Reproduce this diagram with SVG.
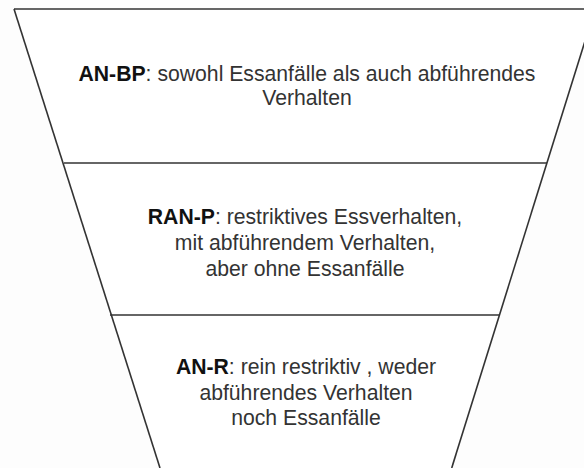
<svg xmlns="http://www.w3.org/2000/svg" width="584" height="468" viewBox="0 0 584 468">
<style>
.edge{stroke:#333;stroke-width:1.6;fill:none}
.t{font-family:"Liberation Sans",Arial,sans-serif;font-size:21.2px;fill:#333;text-anchor:middle}
.b{font-weight:bold;fill:#111}
</style>
<rect width="584" height="468" fill="#fdfdfd"/>
<g id="funnel">
<polygon points="14,9 595,9 451.7,468 160,468" fill="#ffffff" stroke="none"/>
</g>
<g id="connectors">
<line class="edge" x1="14" y1="9" x2="595" y2="9" stroke-width="2.2"/>
<line class="edge" x1="14" y1="9" x2="160" y2="468"/>
<line class="edge" x1="595" y1="9" x2="451.7" y2="468"/>
<line class="edge" x1="64" y1="163" x2="547" y2="163"/>
<line class="edge" x1="110" y1="315" x2="499.5" y2="315"/>
</g>
<g id="node-anbp">
<text class="t" x="307" y="81"><tspan class="b">AN-BP</tspan>: sowohl Essanfälle als auch abführendes</text>
<text class="t" x="307" y="105">Verhalten</text>
</g>
<g id="node-ranp">
<text class="t" x="305" y="224"><tspan class="b">RAN-P</tspan>: restriktives Essverhalten,</text>
<text class="t" x="305" y="250">mit abführendem Verhalten,</text>
<text class="t" x="305" y="276">aber ohne Essanfälle</text>
</g>
<g id="node-anr">
<text class="t" x="306" y="374"><tspan class="b">AN-R</tspan>: rein restriktiv , weder</text>
<text class="t" x="306" y="400">abführendes Verhalten</text>
<text class="t" x="306" y="425">noch Essanfälle</text>
</g>
</svg>
